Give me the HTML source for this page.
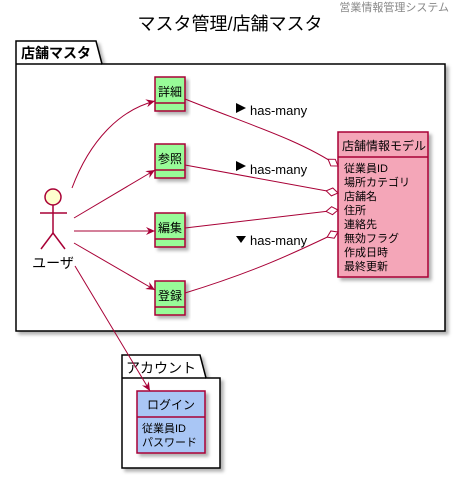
<!DOCTYPE html>
<html><head><meta charset="utf-8"><style>
body{margin:0;background:#fff}
svg text{font-family:"Liberation Sans","Noto Sans CJK JP",sans-serif}
</style></head><body>
<svg width="460" height="475" xmlns="http://www.w3.org/2000/svg">
<defs>
<filter id="sh" x="-10%" y="-10%" width="130%" height="130%"><feDropShadow dx="3" dy="3" stdDeviation="1.5" flood-color="#000" flood-opacity="0.3"/></filter>
<marker id="ar" markerWidth="10" markerHeight="10" refX="9" refY="5" orient="auto" markerUnits="userSpaceOnUse"><path d="M0,1 L9,5 L0,9 L3,5 Z" fill="#A80036"/></marker>
<marker id="dm" markerWidth="14" markerHeight="10" refX="13" refY="5" orient="auto" markerUnits="userSpaceOnUse"><path d="M1,5 L7,1 L13,5 L7,9 Z" fill="#fff" stroke="#A80036"/></marker>
</defs>
<text x="449" y="11" font-size="11" fill="#888" text-anchor="end">営業情報管理システム</text>
<text x="230" y="30" font-size="18" text-anchor="middle">マスタ管理/店舗マスタ</text>
<!-- main package -->
<g filter="url(#sh)">
<path d="M16,64 L16,41 L96,41 L102,64 L445,64 L445,331 L16,331 Z" fill="#fff" stroke="#000" stroke-width="1.5"/>
</g>
<line x1="16" y1="64" x2="102" y2="64" stroke="#000" stroke-width="1.5"/>
<text x="21" y="58" font-size="14" font-weight="bold">店舗マスタ</text>
<!-- account package -->
<g filter="url(#sh)">
<path d="M122,378 L122,355 L200,355 L206,378 L220,378 L220,468 L122,468 Z" fill="#fff" stroke="#000" stroke-width="1.5"/>
</g>
<line x1="122" y1="378" x2="206" y2="378" stroke="#000" stroke-width="1.5"/>
<text x="126" y="373" font-size="14">アカウント</text>
<!-- login -->
<rect x="137" y="391" width="68" height="62" fill="#A9C6F5" stroke="#A80036" stroke-width="1.5" filter="url(#sh)"/>
<line x1="137" y1="417" x2="205" y2="417" stroke="#A80036" stroke-width="1.5"/>
<text x="171" y="409" font-size="12" text-anchor="middle">ログイン</text>
<text x="142" y="432" font-size="11">従業員ID</text>
<text x="142" y="446" font-size="11">パスワード</text>
<!-- green boxes -->
<g font-size="12">
<rect x="155" y="77" width="30" height="34" fill="#98FB98" stroke="#A80036" stroke-width="1.5" filter="url(#sh)"/><line x1="155" y1="103" x2="185" y2="103" stroke="#A80036" stroke-width="1.5"/><text x="158" y="96">詳細</text>
<rect x="155" y="144" width="30" height="34" fill="#98FB98" stroke="#A80036" stroke-width="1.5" filter="url(#sh)"/><line x1="155" y1="170" x2="185" y2="170" stroke="#A80036" stroke-width="1.5"/><text x="158" y="163">参照</text>
<rect x="155" y="213" width="30" height="34" fill="#98FB98" stroke="#A80036" stroke-width="1.5" filter="url(#sh)"/><line x1="155" y1="239" x2="185" y2="239" stroke="#A80036" stroke-width="1.5"/><text x="158" y="232">編集</text>
<rect x="155" y="281" width="30" height="34" fill="#98FB98" stroke="#A80036" stroke-width="1.5" filter="url(#sh)"/><line x1="155" y1="307" x2="185" y2="307" stroke="#A80036" stroke-width="1.5"/><text x="158" y="300">登録</text>
</g>
<!-- model -->
<rect x="338" y="132" width="90" height="145" fill="#F4A6B8" stroke="#A80036" stroke-width="1.5" filter="url(#sh)"/>
<line x1="338" y1="157" x2="428" y2="157" stroke="#A80036" stroke-width="1.5"/>
<text x="342" y="150" font-size="12">店舗情報モデル</text>
<g font-size="11">
<text x="344" y="172">従業員ID</text>
<text x="344" y="186">場所カテゴリ</text>
<text x="344" y="200">店舗名</text>
<text x="344" y="214">住所</text>
<text x="344" y="228">連絡先</text>
<text x="344" y="242">無効フラグ</text>
<text x="344" y="256">作成日時</text>
<text x="344" y="270">最終更新</text>
</g>
<!-- actor -->
<g stroke="#A80036" stroke-width="1.5" fill="none">
<circle cx="53" cy="197" r="8" fill="#FEFECE"/>
<line x1="53" y1="205" x2="53" y2="233"/>
<line x1="40" y1="213" x2="67" y2="213"/>
<line x1="53" y1="233" x2="41" y2="249"/>
<line x1="53" y1="233" x2="65" y2="249"/>
</g>
<text x="53" y="268" font-size="14" text-anchor="middle">ユーザ</text>
<!-- arrows -->
<g stroke="#A80036" stroke-width="1" fill="none">
<path d="M72,188 C90,140 120,110 155,101" marker-end="url(#ar)"/>
<path d="M74,218 L155,170" marker-end="url(#ar)"/>
<path d="M74,231 L155,231" marker-end="url(#ar)"/>
<path d="M74,243 L155,290" marker-end="url(#ar)"/>
<path d="M75,266 L150,391" marker-end="url(#ar)"/>
<path d="M185,99 C250,125 300,140 338,166" marker-end="url(#dm)"/>
<path d="M185,165 L338,193" marker-end="url(#dm)"/>
<path d="M185,228 L338,210" marker-end="url(#dm)"/>
<path d="M185,293 C260,270 300,250 338,232" marker-end="url(#dm)"/>
</g>
<g font-size="13">
<path d="M236,103 L246,108 L236,113 Z" fill="#000"/><text x="250" y="115">has-many</text>
<path d="M236,161 L246,166 L236,171 Z" fill="#000"/><text x="250" y="174">has-many</text>
<path d="M236,236 L246,236 L241,243 Z" fill="#000"/><text x="250" y="245">has-many</text>
</g>
</svg>
</body></html>
